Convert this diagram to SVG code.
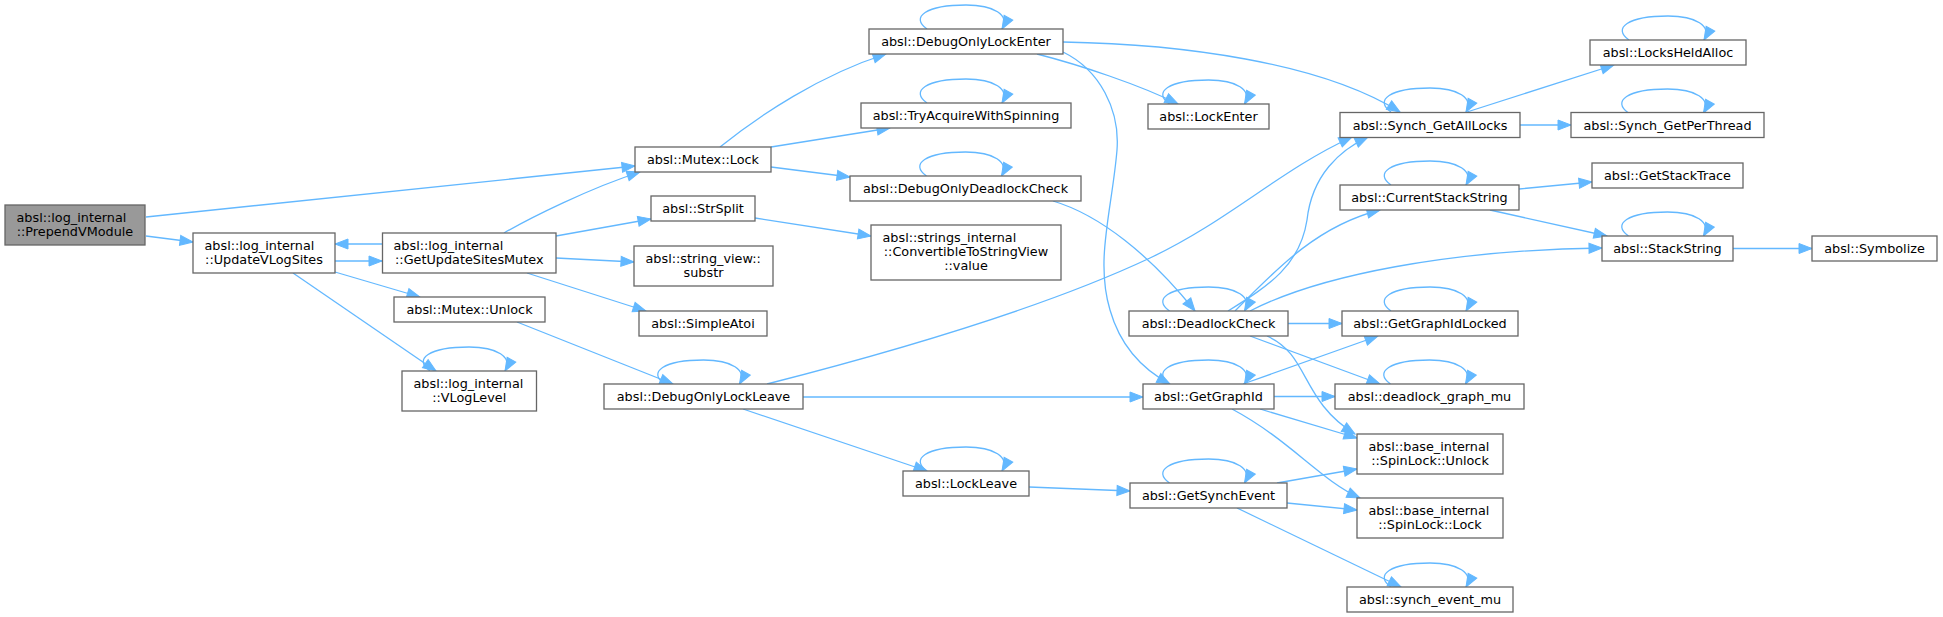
<svg xmlns="http://www.w3.org/2000/svg" width="1943" height="617" viewBox="0 0 1943 617">
<style>
.n rect{fill:#ffffff;stroke:#666666;stroke-width:1.3}
.root rect{fill:#999999}
text{font-family:"DejaVu Sans","Liberation Sans",sans-serif;font-size:12.8px;fill:#000000}
.c{text-anchor:middle}
.l{text-anchor:start}
.e path{fill:none;stroke:#63b8ff;stroke-width:1.3;marker-end:url(#ah)}
</style>
<defs>
<marker id="ah" markerWidth="14" markerHeight="11" refX="13" refY="5" orient="auto" markerUnits="userSpaceOnUse" overflow="visible">
<path d="M0,0 L13,5 L0,10 z" fill="#63b8ff" stroke="#63b8ff" stroke-width="1"/>
</marker>
</defs>
<rect width="1943" height="617" fill="#ffffff"/>
<g id="edges" class="e">
<path d="M146,217 L635,166"/>
<path d="M146,236 L193,242"/>
<path d="M382,244 L335,244"/>
<path d="M335,261 L382,261"/>
<path d="M335,272 L420,297"/>
<path d="M293,273 L436,371"/>
<path d="M504,233 C530,218 590,188 640,172"/>
<path d="M556,236 L651,219"/>
<path d="M556,258 L634,262"/>
<path d="M527,273 L646,311"/>
<path d="M517,322 L673,384"/>
<path d="M720,147 C760,115 820,75 886,54"/>
<path d="M771,147 L890,128"/>
<path d="M771,167 L850,177"/>
<path d="M755,218 L871,236"/>
<path d="M1063,42 C1180,44 1320,62 1400,112"/>
<path d="M1037,54 C1080,65 1140,85 1178,104"/>
<path d="M1063,52 C1100,70 1120,110 1117,150 C1112,210 1095,260 1110,310 C1120,345 1140,368 1170,384"/>
<path d="M1053,201 C1100,215 1150,255 1195,311"/>
<path d="M767,384 C900,350 1050,305 1150,258 C1230,220 1280,170 1352,137"/>
<path d="M803,397 L1143,397"/>
<path d="M743,409 L927,471"/>
<path d="M1029,487 L1130,491"/>
<path d="M1467,112 L1614,65"/>
<path d="M1520,125 L1571,125"/>
<path d="M1519,189 L1592,182"/>
<path d="M1490,210 L1607,236"/>
<path d="M1733,248.5 L1812,248.5"/>
<path d="M1228,311 C1270,285 1300,265 1307,220 C1312,175 1340,150 1368,137"/>
<path d="M1235,311 C1280,265 1320,225 1380,210"/>
<path d="M1250,311 C1320,275 1450,250 1602,248"/>
<path d="M1288,323.5 L1342,323.5"/>
<path d="M1250,336 L1380,384"/>
<path d="M1267,336 C1310,355 1300,400 1355,434"/>
<path d="M1243,384 L1378,336"/>
<path d="M1274,396.5 L1335,396.5"/>
<path d="M1260,409 L1357,438"/>
<path d="M1232,409 C1290,440 1320,480 1360,498"/>
<path d="M1277,483 L1357,469"/>
<path d="M1287,503 L1357,510"/>
<path d="M1237,508 L1401,587"/>
<path d="M430,371 C413,359 429,347 469,347 C497,347 513,357 505,371"/>
<path d="M927,29 C910,17 926,5 966,5 C994,5 1010,15 1002,29"/>
<path d="M927,103 C910,91 926,79 966,79 C994,79 1010,89 1002,103"/>
<path d="M926.5,176 C909.5,164 925.5,152 965.5,152 C993.5,152 1009.5,162 1001.5,176"/>
<path d="M664.5,384 C647.5,372 663.5,360 703.5,360 C731.5,360 747.5,370 739.5,384"/>
<path d="M927,471 C910,459 926,447 966,447 C994,447 1010,457 1002,471"/>
<path d="M1169.5,104 C1152.5,92 1168.5,80 1208.5,80 C1236.5,80 1252.5,90 1244.5,104"/>
<path d="M1391,112 C1374,100 1390,88 1430,88 C1458,88 1474,98 1466,112"/>
<path d="M1629,40 C1612,28 1628,16 1668,16 C1696,16 1712,26 1704,40"/>
<path d="M1628.5,113 C1611.5,101 1627.5,89 1667.5,89 C1695.5,89 1711.5,99 1703.5,113"/>
<path d="M1391,185 C1374,173 1390,161 1430,161 C1458,161 1474,171 1466,185"/>
<path d="M1628.5,236 C1611.5,224 1627.5,212 1667.5,212 C1695.5,212 1711.5,222 1703.5,236"/>
<path d="M1169.5,311 C1152.5,299 1168.5,287 1208.5,287 C1236.5,287 1252.5,297 1244.5,311"/>
<path d="M1391,311 C1374,299 1390,287 1430,287 C1458,287 1474,297 1466,311"/>
<path d="M1169.5,384 C1152.5,372 1168.5,360 1208.5,360 C1236.5,360 1252.5,370 1244.5,384"/>
<path d="M1390.5,384 C1373.5,372 1389.5,360 1429.5,360 C1457.5,360 1473.5,370 1465.5,384"/>
<path d="M1169.5,483 C1152.5,471 1168.5,459 1208.5,459 C1236.5,459 1252.5,469 1244.5,483"/>
<path d="M1391,587 C1374,575 1390,563 1430,563 C1458,563 1474,573 1466,587"/>
</g>
<g id="PrependVModule" class="n root"><rect x="5" y="205" width="140" height="40"/><text class="l" x="16.5" y="222">absl::log_internal</text><text class="c" x="75" y="236">::PrependVModule</text></g>
<g id="UpdateVLogSites" class="n"><rect x="193" y="233" width="142" height="40"/><text class="l" x="204.5" y="250">absl::log_internal</text><text class="c" x="264" y="264">::UpdateVLogSites</text></g>
<g id="GetUpdateSitesMutex" class="n"><rect x="382.5" y="233" width="173.5" height="40"/><text class="l" x="393.5" y="250">absl::log_internal</text><text class="c" x="469.25" y="264">::GetUpdateSitesMutex</text></g>
<g id="MutexUnlock" class="n"><rect x="394" y="297" width="151" height="25"/><text class="c" x="469.5" y="314">absl::Mutex::Unlock</text></g>
<g id="VLogLevel" class="n"><rect x="402" y="371" width="134.5" height="40"/><text class="l" x="413.5" y="388">absl::log_internal</text><text class="c" x="469.25" y="402">::VLogLevel</text></g>
<g id="MutexLock" class="n"><rect x="635" y="147" width="136" height="25"/><text class="c" x="703" y="164">absl::Mutex::Lock</text></g>
<g id="StrSplit" class="n"><rect x="651" y="196" width="104" height="25"/><text class="c" x="703" y="213">absl::StrSplit</text></g>
<g id="substr" class="n"><rect x="634" y="246" width="139" height="40"/><text class="l" x="645.5" y="263">absl::string_view::</text><text class="c" x="703.5" y="277">substr</text></g>
<g id="SimpleAtoi" class="n"><rect x="639" y="311" width="128" height="25"/><text class="c" x="703" y="328">absl::SimpleAtoi</text></g>
<g id="DebugOnlyLockLeave" class="n"><rect x="604" y="384" width="199" height="25"/><text class="c" x="703.5" y="401">absl::DebugOnlyLockLeave</text></g>
<g id="DebugOnlyLockEnter" class="n"><rect x="869" y="29" width="194" height="25"/><text class="c" x="966" y="46">absl::DebugOnlyLockEnter</text></g>
<g id="TryAcquireWithSpinning" class="n"><rect x="861" y="103" width="210" height="25"/><text class="c" x="966" y="120">absl::TryAcquireWithSpinning</text></g>
<g id="DebugOnlyDeadlockCheck" class="n"><rect x="850" y="176" width="231" height="25"/><text class="c" x="965.5" y="193">absl::DebugOnlyDeadlockCheck</text></g>
<g id="ConvertibleToStringView" class="n"><rect x="871" y="225" width="190" height="55"/><text class="l" x="882.5" y="242">absl::strings_internal</text><text class="c" x="966" y="256">::ConvertibleToStringView</text><text class="c" x="966" y="270">::value</text></g>
<g id="LockLeave" class="n"><rect x="903" y="471" width="126" height="25"/><text class="c" x="966" y="488">absl::LockLeave</text></g>
<g id="LockEnter" class="n"><rect x="1148" y="104" width="121" height="25"/><text class="c" x="1208.5" y="121">absl::LockEnter</text></g>
<g id="DeadlockCheck" class="n"><rect x="1129" y="311" width="159" height="25"/><text class="c" x="1208.5" y="328">absl::DeadlockCheck</text></g>
<g id="GetGraphId" class="n"><rect x="1143" y="384" width="131" height="25"/><text class="c" x="1208.5" y="401">absl::GetGraphId</text></g>
<g id="GetSynchEvent" class="n"><rect x="1130" y="483" width="157" height="25"/><text class="c" x="1208.5" y="500">absl::GetSynchEvent</text></g>
<g id="Synch_GetAllLocks" class="n"><rect x="1340" y="112.5" width="180" height="25"/><text class="c" x="1430" y="129.5">absl::Synch_GetAllLocks</text></g>
<g id="CurrentStackString" class="n"><rect x="1340" y="185" width="179" height="25"/><text class="c" x="1429.5" y="202">absl::CurrentStackString</text></g>
<g id="GetGraphIdLocked" class="n"><rect x="1342" y="311" width="176" height="25"/><text class="c" x="1430" y="328">absl::GetGraphIdLocked</text></g>
<g id="deadlock_graph_mu" class="n"><rect x="1335" y="384" width="189" height="25"/><text class="c" x="1429.5" y="401">absl::deadlock_graph_mu</text></g>
<g id="SpinLockUnlock" class="n"><rect x="1357" y="434" width="146" height="40"/><text class="l" x="1368.5" y="451">absl::base_internal</text><text class="c" x="1430" y="465">::SpinLock::Unlock</text></g>
<g id="SpinLockLock" class="n"><rect x="1357" y="498" width="146" height="40"/><text class="l" x="1368.5" y="515">absl::base_internal</text><text class="c" x="1430" y="529">::SpinLock::Lock</text></g>
<g id="synch_event_mu" class="n"><rect x="1347" y="587" width="166" height="25"/><text class="c" x="1430" y="604">absl::synch_event_mu</text></g>
<g id="LocksHeldAlloc" class="n"><rect x="1590" y="40" width="156" height="25"/><text class="c" x="1668" y="57">absl::LocksHeldAlloc</text></g>
<g id="Synch_GetPerThread" class="n"><rect x="1571" y="112.5" width="193" height="25"/><text class="c" x="1667.5" y="129.5">absl::Synch_GetPerThread</text></g>
<g id="GetStackTrace" class="n"><rect x="1592" y="163" width="151" height="25"/><text class="c" x="1667.5" y="180">absl::GetStackTrace</text></g>
<g id="StackString" class="n"><rect x="1602" y="236" width="131" height="25"/><text class="c" x="1667.5" y="253">absl::StackString</text></g>
<g id="Symbolize" class="n"><rect x="1812" y="236" width="125" height="25"/><text class="c" x="1874.5" y="253">absl::Symbolize</text></g>
</svg>
